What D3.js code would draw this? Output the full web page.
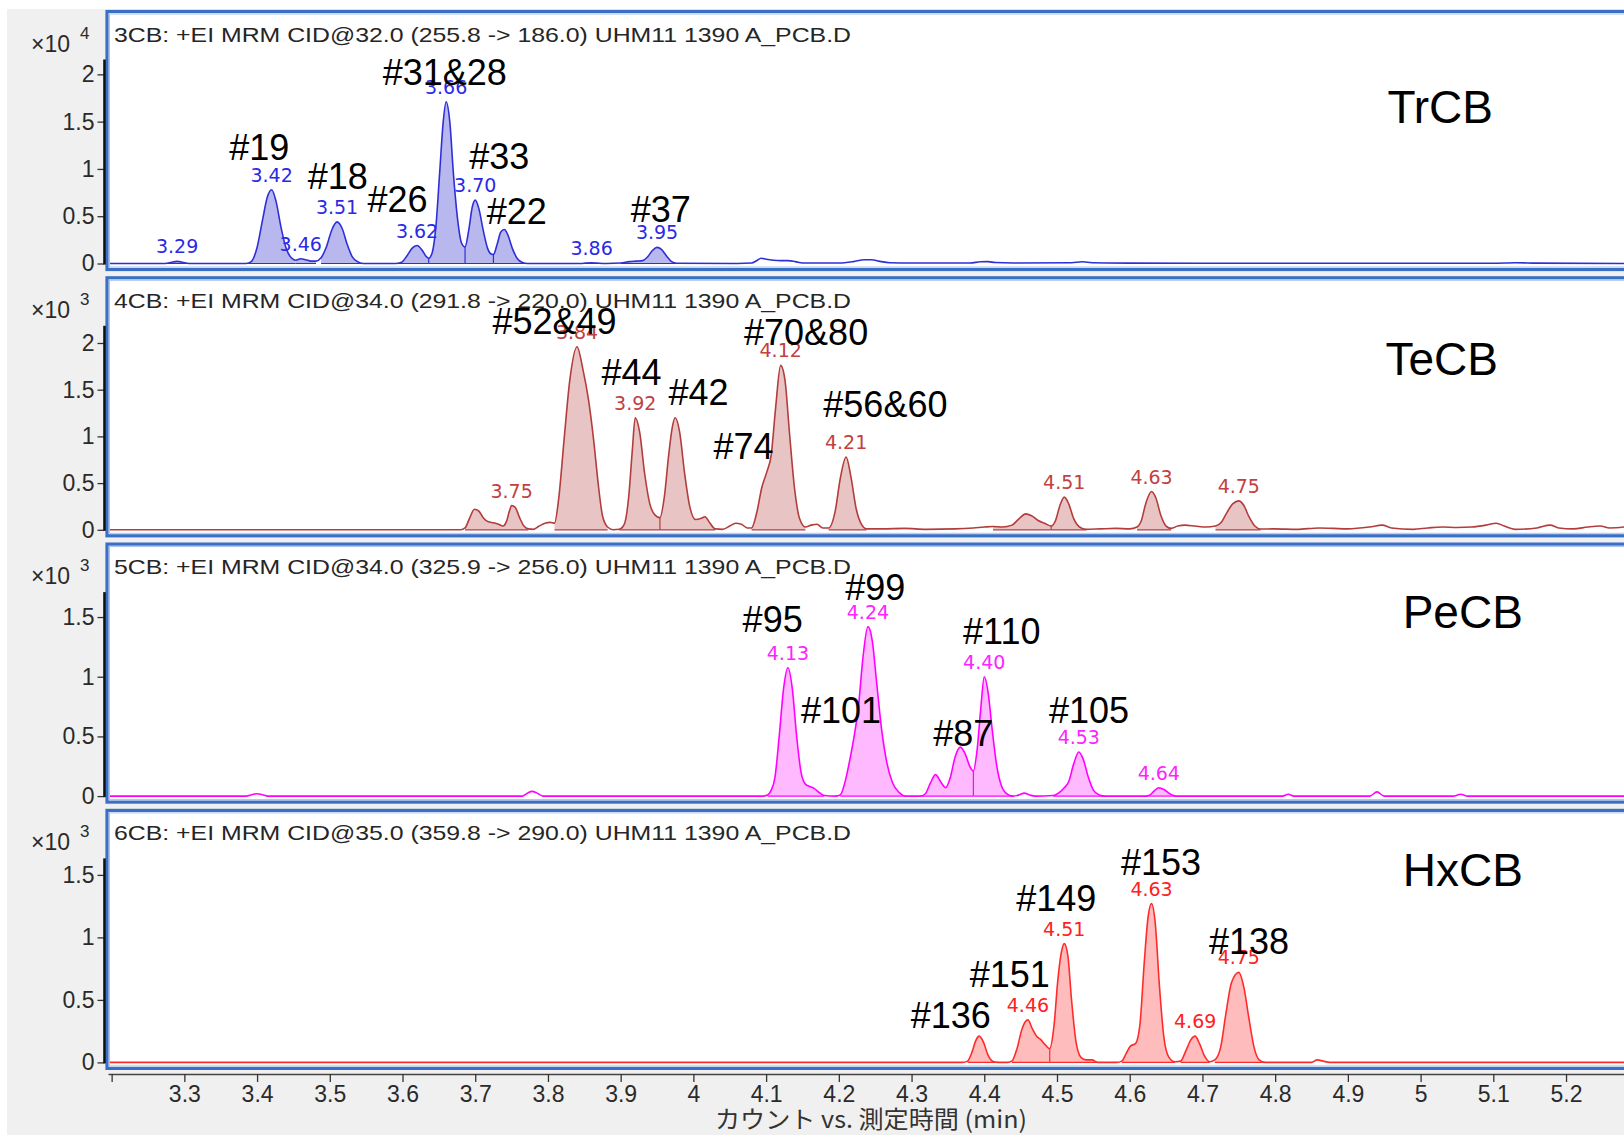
<!DOCTYPE html>
<html>
<head>
<meta charset="utf-8">
<script src="https://cdn.jsdelivr.net/npm/d3@7/dist/d3.min.js"></script>
<style>
  html, body { margin: 0; padding: 0; background: #ffffff; }
  svg { display: block; }
  text { font-family: "Liberation Sans", Arial, sans-serif; }
</style>
</head>
<body>
<svg id="chart" width="1624" height="1135"></svg>
<script>
// ---------------- data ----------------
const timeTicks = [3.2, 3.3, 3.4, 3.5, 3.6, 3.7, 3.8, 3.9, 4.0, 4.1, 4.2, 4.3, 4.4, 4.5, 4.6, 4.7, 4.8, 4.9, 5.0, 5.1, 5.2];
const timeTickLabels = ["", "3.3", "3.4", "3.5", "3.6", "3.7", "3.8", "3.9", "4", "4.1", "4.2", "4.3", "4.4", "4.5", "4.6", "4.7", "4.8", "4.9", "5", "5.1", "5.2"];
const xTitle = "カウント vs. 測定時間 (min)";

const panelHeaders = [
  "3CB: +EI MRM CID@32.0 (255.8 -> 186.0) UHM11 1390 A_PCB.D",
  "4CB: +EI MRM CID@34.0 (291.8 -> 220.0) UHM11 1390 A_PCB.D",
  "5CB: +EI MRM CID@34.0 (325.9 -> 256.0) UHM11 1390 A_PCB.D",
  "6CB: +EI MRM CID@35.0 (359.8 -> 290.0) UHM11 1390 A_PCB.D"
];
const homologGroups = ["TrCB", "TeCB", "PeCB", "HxCB"];
const countExponents = [4, 3, 3, 3];
const yMaxima = [2.157, 2.184, 1.709, 1.632];
const yTicks = [
  [0, 0.5, 1, 1.5, 2],
  [0, 0.5, 1, 1.5, 2],
  [0, 0.5, 1, 1.5],
  [0, 0.5, 1, 1.5]
];

// chromatogram traces: [time (min), counts]
const traceTrCB = [
  [3.195,0],[3.270,0],[3.278,0.006],[3.284,0.016],[3.290,0.022],[3.296,0.016],[3.302,0.006],[3.310,0],
  [3.385,0],[3.392,0.02],[3.400,0.17],[3.408,0.48],[3.414,0.7],[3.420,0.78],[3.426,0.66],[3.433,0.38],[3.440,0.16],[3.447,0.06],[3.453,0.035],
  [3.460,0.05],[3.467,0.04],[3.474,0.025],[3.481,0.025],
  [3.488,0.06],[3.495,0.17],[3.503,0.36],[3.510,0.44],[3.517,0.37],[3.524,0.2],[3.531,0.07],[3.538,0.02],[3.546,0],
  [3.590,0],[3.598,0.01],[3.606,0.08],[3.613,0.16],[3.620,0.19],[3.627,0.14],[3.632,0.08],[3.636,0.055],
  [3.641,0.12],[3.646,0.4],[3.651,0.95],[3.656,1.5],[3.660,1.71],[3.665,1.5],[3.670,0.95],[3.676,0.45],[3.681,0.22],[3.686,0.175],
  [3.691,0.35],[3.696,0.6],[3.700,0.67],[3.705,0.58],[3.711,0.35],[3.717,0.16],[3.722,0.1],[3.725,0.095],
  [3.730,0.2],[3.735,0.33],[3.740,0.36],[3.745,0.3],[3.751,0.16],[3.758,0.05],[3.765,0.01],[3.772,0],
  [3.845,0],[3.852,0.005],[3.860,0.008],[3.868,0.004],[3.880,0],[3.900,0.005],[3.912,0.02],[3.922,0.025],[3.930,0.03],
  [3.937,0.07],[3.944,0.14],[3.950,0.17],[3.956,0.15],[3.963,0.08],[3.970,0.02],[3.977,0.003],
  [4.060,0],[4.080,0.005],[4.087,0.03],[4.093,0.055],[4.100,0.045],[4.110,0.035],[4.120,0.03],[4.130,0.03],[4.140,0.02],[4.150,0.005],
  [4.200,0.005],[4.220,0.02],[4.235,0.04],[4.245,0.04],[4.255,0.025],[4.270,0.008],[4.300,0.005],[4.380,0.005],[4.395,0.018],[4.405,0.02],
  [4.415,0.01],[4.440,0.005],[4.520,0.008],[4.535,0.018],[4.548,0.008],[4.600,0.004],[4.700,0.002],[5.100,0.002],[5.130,0.008],[5.160,0.004],[5.280,0]
];
const traceTeCB = [
  [3.195,0],[3.680,0],[3.686,0.02],[3.692,0.12],[3.699,0.22],[3.705,0.2],[3.711,0.13],[3.718,0.085],[3.725,0.075],[3.732,0.06],[3.738,0.04],
  [3.743,0.09],[3.747,0.2],[3.750,0.26],[3.755,0.24],[3.761,0.13],[3.767,0.04],[3.773,0.01],[3.780,0.005],[3.788,0.04],[3.796,0.07],[3.803,0.08],[3.809,0.07],
  [3.815,0.35],[3.822,0.95],[3.830,1.6],[3.840,1.96],[3.848,1.72],[3.856,1.38],[3.863,0.95],[3.869,0.5],[3.875,0.15],[3.882,0.03],[3.890,0],[3.898,0.005],
  [3.905,0.06],[3.911,0.35],[3.916,0.85],[3.920,1.2],[3.926,1.05],[3.933,0.6],[3.940,0.28],[3.947,0.16],[3.954,0.13],
  [3.960,0.35],[3.966,0.8],[3.971,1.1],[3.975,1.2],[3.981,1.05],[3.988,0.6],[3.995,0.25],[4.003,0.11],[4.010,0.12],[4.016,0.14],[4.022,0.08],[4.030,0.01],
  [4.040,0.005],[4.050,0.04],[4.058,0.07],[4.066,0.06],[4.074,0.02],
  [4.080,0.02],[4.087,0.18],[4.094,0.45],[4.101,0.62],[4.107,0.8],[4.113,1.3],[4.120,1.76],[4.126,1.6],[4.132,1.05],[4.139,0.45],[4.146,0.12],[4.154,0.03],
  [4.162,0.05],[4.170,0.06],[4.178,0.02],[4.186,0.02],
  [4.195,0.2],[4.202,0.55],[4.210,0.78],[4.217,0.55],[4.224,0.22],[4.231,0.06],[4.238,0.01],
  [4.260,0.01],[4.290,0.015],[4.320,0.005],[4.360,0.01],[4.385,0.02],[4.400,0.03],[4.412,0.035],[4.425,0.03],[4.438,0.05],[4.448,0.12],[4.457,0.17],
  [4.465,0.15],[4.474,0.1],[4.483,0.07],[4.492,0.04],
  [4.498,0.1],[4.504,0.26],[4.510,0.35],[4.516,0.28],[4.523,0.12],[4.531,0.03],[4.540,0.005],
  [4.560,0.01],[4.580,0.015],[4.600,0.01],[4.610,0.03],
  [4.616,0.1],[4.622,0.28],[4.630,0.41],[4.636,0.34],[4.643,0.15],[4.650,0.04],[4.657,0.015],
  [4.666,0.04],[4.676,0.05],[4.690,0.04],[4.705,0.03],[4.718,0.04],
  [4.726,0.08],[4.734,0.19],[4.742,0.28],[4.750,0.31],[4.757,0.26],[4.764,0.14],[4.772,0.04],[4.780,0.008],
  [4.800,0.01],[4.830,0.005],[4.860,0.02],[4.880,0.015],[4.900,0.01],[4.930,0.03],[4.947,0.05],[4.960,0.02],[4.990,0.005],[5.010,0.02],[5.030,0.03],
  [5.050,0.025],[5.070,0.03],[5.090,0.05],[5.104,0.07],[5.115,0.04],[5.130,0.005],[5.160,0.02],[5.178,0.05],[5.190,0.02],[5.210,0.01],[5.230,0.03],
  [5.247,0.04],[5.260,0.02],[5.280,0.03]
];
const tracePeCB = [
  [3.195,0],[3.385,0],[3.393,0.012],[3.400,0.02],[3.407,0.012],[3.415,0],[3.765,0],[3.772,0.025],[3.778,0.04],[3.785,0.025],[3.793,0],[4.095,0],
  [4.102,0.01],[4.107,0.05],[4.112,0.15],[4.118,0.5],[4.124,0.9],[4.130,1.075],[4.136,0.9],[4.142,0.5],[4.148,0.2],[4.154,0.1],[4.160,0.08],[4.166,0.065],[4.173,0.03],[4.180,0.005],[4.195,0],
  [4.202,0.01],[4.209,0.13],[4.215,0.3],[4.221,0.5],[4.227,0.75],[4.233,1.15],[4.240,1.42],[4.246,1.3],[4.252,0.95],[4.259,0.55],[4.266,0.28],[4.274,0.11],[4.283,0.03],[4.292,0],
  [4.312,0],[4.319,0.02],[4.326,0.11],[4.333,0.18],[4.340,0.12],[4.347,0.07],
  [4.353,0.15],[4.360,0.33],[4.367,0.41],[4.374,0.35],[4.380,0.25],[4.385,0.21],
  [4.390,0.38],[4.395,0.72],[4.400,1.0],[4.405,0.88],[4.411,0.55],[4.417,0.26],[4.424,0.08],[4.432,0.015],[4.440,0],
  [4.448,0.01],[4.455,0.025],[4.462,0.01],[4.470,0],[4.495,0.005],
  [4.503,0.03],[4.510,0.07],[4.516,0.12],[4.523,0.27],[4.530,0.37],[4.536,0.31],[4.543,0.16],[4.550,0.05],[4.558,0.01],[4.566,0],
  [4.622,0],[4.628,0.01],[4.634,0.045],[4.640,0.07],[4.647,0.055],[4.655,0.02],[4.663,0],
  [4.810,0],[4.818,0.015],[4.826,0],[4.930,0],[4.940,0.035],[4.950,0],[5.045,0],[5.055,0.015],[5.065,0],[5.280,0]
];
const traceHxCB = [
  [3.195,0],[4.370,0],[4.377,0.01],[4.383,0.08],[4.388,0.17],[4.393,0.21],[4.399,0.16],[4.405,0.06],[4.412,0.008],[4.420,0],[4.432,0],
  [4.438,0.01],[4.445,0.11],[4.452,0.27],[4.460,0.34],[4.466,0.27],[4.472,0.21],[4.478,0.18],[4.484,0.14],[4.490,0.11],
  [4.496,0.3],[4.501,0.65],[4.506,0.88],[4.510,0.95],[4.515,0.85],[4.520,0.5],[4.526,0.17],[4.533,0.04],[4.540,0.02],[4.548,0.02],[4.556,0],
  [4.582,0],[4.589,0.01],[4.595,0.07],[4.601,0.13],[4.608,0.15],[4.614,0.3],[4.620,0.8],[4.625,1.15],[4.630,1.27],[4.635,1.12],[4.641,0.6],[4.647,0.2],[4.654,0.04],[4.662,0.005],
  [4.670,0.01],[4.677,0.09],[4.684,0.18],[4.690,0.21],[4.696,0.15],[4.703,0.05],[4.710,0.005],
  [4.717,0.02],[4.725,0.12],[4.732,0.38],[4.740,0.64],[4.750,0.72],[4.757,0.6],[4.764,0.35],[4.771,0.12],[4.778,0.02],[4.786,0],
  [4.850,0],[4.858,0.02],[4.866,0.01],[4.875,0],[5.280,0]
];

// integrated peak windows [start, end] (min)
const windowsTrCB = [[3.270,3.310],[3.385,3.453],[3.453,3.481],[3.488,3.546],[3.590,3.636],[3.636,3.686],[3.686,3.725],[3.725,3.772],[3.845,3.880],[3.900,3.977]];
const windowsTeCB = [[3.686,3.738],[3.738,3.773],[3.809,3.882],[3.898,3.954],[3.954,4.030],[4.080,4.154],[4.186,4.238],[4.412,4.492],[4.492,4.540],[4.610,4.657],[4.718,4.780]];
const windowsPeCB = [[4.102,4.180],[4.202,4.292],[4.312,4.385],[4.385,4.440],[4.495,4.566],[4.622,4.663]];
const windowsHxCB = [[4.377,4.420],[4.438,4.490],[4.490,4.556],[4.589,4.662],[4.670,4.710],[4.717,4.786]];

// split lines between co-eluting peaks (min)
const dropsTrCB = [3.636, 3.686, 3.725];
const dropsTeCB = [3.954, 4.492];
const dropsPeCB = [4.385];
const dropsHxCB = [4.490];

// retention-time labels: [rt, apex counts]
const rtTrCB = [[3.29,0.022],[3.42,0.78],[3.46,0.05],[3.51,0.44],[3.62,0.19],[3.66,1.71],[3.70,0.67],[3.86,0.008],[3.95,0.17]];
const rtTeCB = [[3.75,0.26],[3.84,1.96],[3.92,1.2],[4.12,1.76],[4.21,0.78],[4.51,0.35],[4.63,0.41],[4.75,0.31]];
const rtPeCB = [[4.13,1.075],[4.24,1.42],[4.40,1.0],[4.53,0.37],[4.64,0.07]];
const rtHxCB = [[4.46,0.34],[4.51,0.95],[4.63,1.27],[4.69,0.21],[4.75,0.72]];

// congener names anchored at [time, counts]
const congenersTrCB = [["#19",3.403,1.228],["#18",3.511,0.924],["#26",3.593,0.685],["#31&28",3.658,2.02],["#33",3.733,1.141],["#22",3.757,0.554],["#37",3.955,0.576]];
const congenersTeCB = [["#52&49",3.809,2.233],["#44",3.915,1.689],["#42",4.007,1.478],["#74",4.069,0.9],["#70&80",4.155,2.122],["#56&60",4.264,1.344]];
const congenersPeCB = [["#95",4.109,1.482],["#99",4.250,1.754],["#110",4.424,1.386],["#101",4.203,0.719],["#87",4.371,0.526],["#105",4.544,0.719]];
const congenersHxCB = [["#136",4.354,0.375],["#151",4.435,0.708],["#149",4.499,1.317],["#153",4.643,1.6],["#138",4.764,0.967]];
// homolog group captions anchored at [time, counts]
const groupAnchors = [[5.027,1.663],[5.029,1.833],[5.058,1.544],[5.058,1.542]];

const traces = [traceTrCB, traceTeCB, tracePeCB, traceHxCB];
const windows = [windowsTrCB, windowsTeCB, windowsPeCB, windowsHxCB];
const drops = [dropsTrCB, dropsTeCB, dropsPeCB, dropsHxCB];
const rtLabels = [rtTrCB, rtTeCB, rtPeCB, rtHxCB];
const congeners = [congenersTrCB, congenersTeCB, congenersPeCB, congenersHxCB];

// ---------------- styling ----------------
const lineColors = ["#2f2fd8", "#b33c3c", "#ff00ff", "#ff2b2b"];
const fillColors = ["#b8b8ee", "#e8c4c4", "#ffbaff", "#ffbcbc"];
const labelColors = ["#2a2ae6", "#c24040", "#ff22ff", "#ff2020"];
const rtFont = "'DejaVu Sans', 'Liberation Sans', sans-serif";
const axisFont = "'Liberation Sans', Arial, sans-serif";

const W = 1624, H = 1135;
const frameLeft = 107;
const firstTop = 11.5, pitch = 266.3, frameHeight = 258, baseOffset = 252, plotHeight = 204;

const svg = d3.select("#chart");

// window background
svg.append("rect").attr("x", 0).attr("y", 0).attr("width", W).attr("height", H).attr("fill", "#ffffff");
svg.append("rect").attr("x", 7).attr("y", 9).attr("width", W - 7).attr("height", H - 9).attr("fill", "#f0f0f0");

const x = d3.scaleLinear().domain([3.195, 5.28]).range([108, 108 + (5.28 - 3.195) * 727.2]);

const lookup = (trace, t) => {
  const p = trace.find(d => Math.abs(d[0] - t) < 1e-6);
  return p ? p[1] : 0;
};

for (let i = 0; i < 4; i++) {
  const top = firstTop + i * pitch;
  const base = top + baseOffset;
  const y = d3.scaleLinear().domain([0, yMaxima[i]]).range([base, base - plotHeight]);
  const g = svg.append("g");

  // panel interior
  g.append("rect").attr("x", frameLeft).attr("y", top).attr("width", W).attr("height", frameHeight).attr("fill", "#ffffff");

  const clipId = "clip" + i;
  svg.append("clipPath").attr("id", clipId).append("rect")
    .attr("x", frameLeft + 2).attr("y", top + 2).attr("width", W).attr("height", frameHeight - 4);
  const plot = g.append("g").attr("clip-path", `url(#${clipId})`);

  const trace = traces[i];
  const area = d3.area().x(d => x(d[0])).y0(y(0)).y1(d => y(d[1])).curve(d3.curveMonotoneX);
  const line = d3.line().x(d => x(d[0])).y(d => y(d[1])).curve(d3.curveMonotoneX);

  // integrated areas
  plot.selectAll("path.win").data(windows[i]).join("path")
    .attr("class", "win")
    .attr("d", w => area(trace.filter(d => d[0] >= w[0] - 1e-6 && d[0] <= w[1] + 1e-6)))
    .attr("fill", fillColors[i]).attr("stroke", "none");

  // integration baselines
  plot.selectAll("line.bl").data(windows[i]).join("line")
    .attr("class", "bl")
    .attr("x1", w => x(w[0])).attr("x2", w => x(w[1]))
    .attr("y1", y(0)).attr("y2", y(0))
    .attr("stroke", lineColors[i]).attr("stroke-width", 1.2);

  // split lines
  plot.selectAll("line.drop").data(drops[i]).join("line")
    .attr("class", "drop")
    .attr("x1", t => x(t)).attr("x2", t => x(t))
    .attr("y1", y(0)).attr("y2", t => y(lookup(trace, t)))
    .attr("stroke", lineColors[i]).attr("stroke-width", 1.2);

  // trace
  plot.append("path").attr("d", line(trace))
    .attr("fill", "none").attr("stroke", lineColors[i]).attr("stroke-width", 1.6)
    .attr("stroke-linejoin", "round");

  // retention time labels
  plot.selectAll("text.rt").data(rtLabels[i]).join("text")
    .attr("class", "rt")
    .attr("x", d => x(d[0])).attr("y", d => y(d[1]) - 8)
    .attr("text-anchor", "middle")
    .attr("font-size", 19)
    .style("font-family", rtFont)
    .attr("fill", labelColors[i])
    .text(d => d3.format(".2f")(d[0]));

  // congener names
  plot.selectAll("text.cg").data(congeners[i]).join("text")
    .attr("class", "cg")
    .attr("x", d => x(d[1])).attr("y", d => y(d[2]))
    .attr("dy", "0.36em")
    .attr("text-anchor", "middle")
    .attr("font-size", 36)
    .attr("fill", "#000")
    .text(d => d[0]);

  // homolog group caption
  g.append("text")
    .attr("x", x(groupAnchors[i][0])).attr("y", y(groupAnchors[i][1]))
    .attr("dy", "0.36em")
    .attr("text-anchor", "middle")
    .attr("font-size", 46)
    .attr("fill", "#000")
    .text(homologGroups[i]);

  // header
  g.append("text")
    .attr("x", 114).attr("y", top + 30)
    .attr("font-size", 21)
    .attr("fill", "#262626")
    .attr("textLength", 737).attr("lengthAdjust", "spacingAndGlyphs")
    .text(panelHeaders[i]);

  // panel frame (double line)
  g.append("rect").attr("x", frameLeft).attr("y", top).attr("width", W + 20).attr("height", frameHeight)
    .attr("fill", "none").attr("stroke", "#3a6fc6").attr("stroke-width", 3.2);
  g.append("rect").attr("x", frameLeft + 2.5).attr("y", top + 2.5).attr("width", W + 20).attr("height", frameHeight - 5)
    .attr("fill", "none").attr("stroke", "#a8c3ec").attr("stroke-width", 1);

  // y axis
  const yAxis = d3.axisLeft(y).tickValues(yTicks[i]).tickSize(7).tickSizeOuter(0).tickPadding(3)
    .tickFormat(d3.format("~g"));
  const ya = g.append("g").attr("transform", `translate(104.5,0)`).call(yAxis);
  ya.select(".domain").remove();
  ya.selectAll(".tick line").attr("stroke", "#333").attr("stroke-width", 1.3);
  ya.selectAll(".tick text").attr("font-size", 23).attr("fill", "#2a2a2a")
    .attr("font-family", axisFont);
  g.append("line").attr("x1", 104.5).attr("x2", 104.5).attr("y1", base - plotHeight).attr("y2", base + 1)
    .attr("stroke", "#111").attr("stroke-width", 2.6);

  // count multiplier
  g.append("text").attr("x", 31).attr("y", top + 40).attr("font-size", 23).attr("fill", "#2a2a2a")
    .style("font-family", axisFont).text("×10");
  g.append("text").attr("x", 80).attr("y", top + 27).attr("font-size", 17).attr("fill", "#2a2a2a")
    .style("font-family", axisFont).text(countExponents[i]);
}

// time axis
const axisY = 1074;
const xAxis = d3.axisBottom(x).tickValues(timeTicks).tickSize(8).tickSizeOuter(0).tickPadding(4)
  .tickFormat((d, k) => timeTickLabels[k]);
const xa = svg.append("g").attr("transform", `translate(0,${axisY})`).call(xAxis);
xa.select(".domain").attr("stroke", "#444").attr("stroke-width", 1.5);
xa.selectAll(".tick line").attr("stroke", "#333").attr("stroke-width", 1.3);
xa.selectAll(".tick text").attr("font-size", 23).attr("fill", "#2a2a2a")
  .attr("font-family", axisFont);

svg.append("text")
  .attr("x", 715).attr("y", 1128)
  .attr("font-size", 24)
  .attr("fill", "#333")
  .attr("textLength", 312).attr("lengthAdjust", "spacingAndGlyphs")
  .style("font-family", "'Noto Sans CJK JP', sans-serif")
  .text(xTitle);
</script>
</body>
</html>
